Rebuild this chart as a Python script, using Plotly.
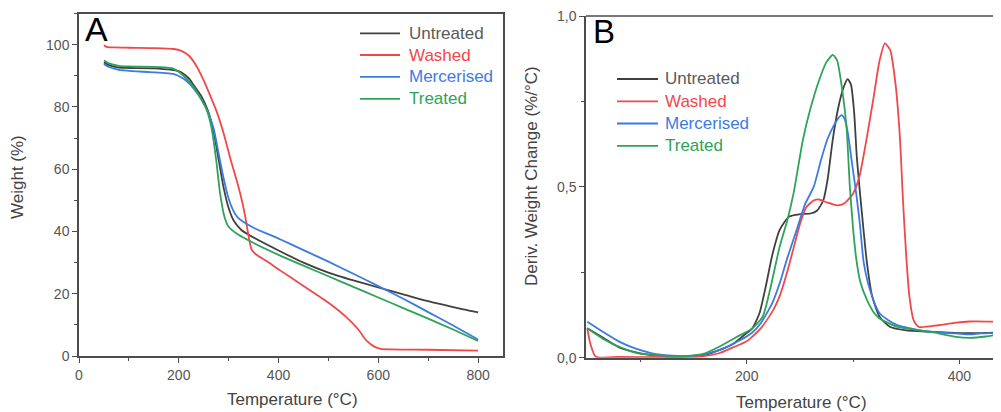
import plotly.graph_objects as go

# ---------------- Panel A: TGA (Weight %) ----------------
series_names = ["Untreated", "Washed", "Mercerised", "Treated"]
line_colors = ["#404040", "#f0484a", "#3b7be3", "#2ea35a"]
text_colors = ["#5a5a5a", "#f0484a", "#3b7be3", "#2ea35a"]

tA_untreated = [50, 60, 80, 100, 150, 200, 220, 230, 245, 258, 270, 280, 290, 300, 310, 326, 345, 400, 450, 500, 550, 600, 650, 700, 750, 800]
wA_untreated = [94.3, 93.4, 92.6, 92.5, 92.4, 91.5, 89.2, 87.0, 83.5, 79.0, 72.0, 63.0, 54.0, 47.5, 43.5, 40.4, 38.5, 33.9, 30.0, 26.8, 24.3, 22.0, 19.8, 17.6, 15.7, 14.0]

tA_washed = [50, 55, 70, 100, 150, 190, 205, 220, 236, 250, 262, 276, 290, 305, 315, 325, 333, 340, 346, 355, 376, 403, 450, 503, 536, 560, 576, 592, 605, 625, 700, 800]
wA_washed = [99.8, 99.3, 99.1, 99.0, 98.9, 98.6, 98.0, 96.5, 93.0, 88.5, 84.0, 78.5, 71.5, 62.5, 57.0, 51.0, 45.0, 38.5, 34.2, 32.6, 30.5, 27.5, 22.5, 16.8, 12.5, 8.5, 5.0, 3.0, 2.3, 2.1, 2.0, 1.7]

tA_mercerised = [50, 60, 80, 100, 129, 189, 209, 230, 245, 258, 270, 280, 290, 300, 309, 318, 330, 350, 403, 450, 500, 550, 603, 650, 700, 750, 800]
wA_mercerised = [93.8, 92.8, 91.9, 91.6, 91.3, 90.6, 89.1, 85.9, 82.5, 78.5, 73.0, 65.0, 57.0, 50.5, 46.8, 44.5, 43.0, 41.2, 37.5, 34.0, 30.3, 26.4, 22.2, 18.4, 14.1, 9.8, 5.3]

tA_treated = [50, 60, 80, 100, 160, 189, 209, 230, 245, 256, 266, 275, 283, 292, 300, 319, 350, 400, 450, 500, 550, 600, 650, 700, 750, 800]
wA_treated = [94.9, 94.0, 93.2, 93.0, 92.8, 92.3, 90.1, 86.4, 82.5, 79.0, 73.0, 63.0, 52.0, 44.5, 41.5, 39.0, 36.3, 32.5, 29.0, 25.6, 22.2, 18.8, 15.4, 12.0, 8.5, 4.8]

# ---------------- Panel B: DTG (Deriv. weight change) ----------------
tB_untreated = [50, 65, 80, 100, 125, 143, 160, 174, 187, 199, 205, 212, 218, 224, 231, 240, 250, 260, 266, 272, 276, 281, 286, 291, 295, 298, 301, 303.5, 306, 310, 313, 318, 325, 335, 350, 372, 400, 420, 440]
dB_untreated = [0.086, 0.058, 0.030, 0.013, 0.004, 0.004, 0.008, 0.022, 0.040, 0.070, 0.085, 0.130, 0.210, 0.300, 0.374, 0.413, 0.420, 0.422, 0.430, 0.460, 0.520, 0.640, 0.730, 0.790, 0.815, 0.800, 0.720, 0.590, 0.500, 0.370, 0.280, 0.180, 0.120, 0.090, 0.080, 0.076, 0.072, 0.072, 0.074]

tB_washed = [50, 53, 58, 80, 120, 156, 174, 187, 200, 213, 225, 231, 238, 244, 250, 256, 263, 268, 275, 285, 292, 300, 306, 313, 319, 325, 330, 335, 340, 344, 347, 350, 353, 357, 362, 380, 395, 410, 440]
dB_washed = [0.086, 0.040, 0.003, 0.002, 0.002, 0.003, 0.013, 0.030, 0.048, 0.085, 0.140, 0.180, 0.250, 0.320, 0.390, 0.440, 0.460, 0.463, 0.455, 0.446, 0.452, 0.480, 0.530, 0.645, 0.755, 0.870, 0.920, 0.900, 0.800, 0.650, 0.460, 0.300, 0.180, 0.110, 0.090, 0.095, 0.102, 0.106, 0.105]

tB_mercerised = [50, 65, 80, 95, 111, 130, 143, 160, 174, 190, 205, 213, 224, 231, 238, 247, 255, 263, 270, 276, 282, 286, 289, 292, 295, 299, 303, 306.5, 310, 316, 325, 341, 372, 397, 410, 420, 440]
dB_mercerised = [0.105, 0.075, 0.047, 0.027, 0.013, 0.006, 0.005, 0.010, 0.022, 0.045, 0.073, 0.100, 0.160, 0.218, 0.290, 0.374, 0.450, 0.500, 0.580, 0.640, 0.680, 0.700, 0.710, 0.700, 0.660, 0.570, 0.480, 0.390, 0.280, 0.198, 0.130, 0.096, 0.076, 0.071, 0.068, 0.071, 0.074]

tB_treated = [50, 65, 80, 95, 111, 130, 143, 160, 174, 190, 205, 215, 222, 231, 238, 244, 253, 260, 269, 275, 281, 285, 290, 294, 297, 300, 303, 307, 313, 320, 325, 341, 372, 397, 410, 425, 440]
dB_treated = [0.086, 0.055, 0.032, 0.015, 0.008, 0.005, 0.005, 0.012, 0.032, 0.060, 0.085, 0.120, 0.200, 0.325, 0.400, 0.480, 0.640, 0.730, 0.820, 0.865, 0.886, 0.870, 0.780, 0.670, 0.500, 0.380, 0.290, 0.220, 0.170, 0.130, 0.115, 0.091, 0.076, 0.061, 0.058, 0.062, 0.070]

# tick labels
xA_ticks = [0, 200, 400, 600, 800]
yA_ticks = [0, 20, 40, 60, 80, 100]
xB_ticks = [200, 400]
yB_ticks = [0.0, 0.5, 1.0]
yB_ticktext = ["0,0", "0,5", "1,0"]

# page has an 8px body margin: figure occupies window pixels 8..1001 x 8..412
OFF = 8
W, H = 1001 - OFF, 412 - OFF
def px(x):
    return (x - OFF) / W
def py(y):
    return 1 - (y - OFF) / H

FONT = "Arial, Liberation Sans, sans-serif"
AX = "#4d4d4d"

fig = go.Figure()

dataA = [(tA_untreated, wA_untreated), (tA_washed, wA_washed),
         (tA_mercerised, wA_mercerised), (tA_treated, wA_treated)]
dataB = [(tB_untreated, dB_untreated), (tB_washed, dB_washed),
         (tB_mercerised, dB_mercerised), (tB_treated, dB_treated)]

for i, (x, y) in enumerate(dataA):
    fig.add_trace(go.Scatter(
        x=x, y=y, mode="lines", xaxis="x", yaxis="y", name=series_names[i],
        line=dict(color=line_colors[i], width=1.8, shape="spline", smoothing=0.6),
        showlegend=False))

for i, (x, y) in enumerate(dataB):
    fig.add_trace(go.Scatter(
        x=x, y=y, mode="lines", xaxis="x2", yaxis="y2", name=series_names[i],
        line=dict(color=line_colors[i], width=1.8, shape="spline", smoothing=0.6),
        showlegend=False))

axis_common = dict(showline=True, linecolor=AX, linewidth=1.5,
                   ticks="outside", ticklen=5, tickwidth=1.2, tickcolor=AX,
                   showgrid=False, zeroline=False, automargin=False,
                   ticklabeloverflow="allow",
                   tickfont=dict(family=FONT, size=14, color="#555555"))

fig.update_layout(
    width=W, height=H,
    margin=dict(l=0, r=0, t=0, b=0, pad=0, autoexpand=False),
    paper_bgcolor="white", plot_bgcolor="white",
    showlegend=False,
    xaxis=dict(domain=[px(79), px(503)], range=[0, 850], tickmode="array", tickvals=xA_ticks,
               mirror=True, anchor="y",
               minor=dict(tickmode="linear", tick0=0, dtick=100, ticks="outside", ticklen=3, tickcolor=AX),
               **axis_common),
    yaxis=dict(domain=[py(356), py(13.5)], range=[0, 110], tickmode="array", tickvals=yA_ticks,
               mirror=True, anchor="x",
               minor=dict(tickmode="linear", tick0=0, dtick=10, ticks="outside", ticklen=3, tickcolor=AX),
               **axis_common),
    xaxis2=dict(domain=[px(586), 1.0], range=[48.8, 439.2], tickmode="array", tickvals=xB_ticks,
                mirror=False, anchor="y2",
                minor=dict(tickmode="linear", tick0=0, dtick=100, ticks="outside", ticklen=3, tickcolor=AX),
                **axis_common),
    yaxis2=dict(domain=[py(357.7), py(16)], range=[0, 1.0], tickmode="array", tickvals=yB_ticks,
                ticktext=yB_ticktext, mirror=False, anchor="x2",
                minor=dict(tickmode="linear", tick0=0, dtick=0.25, ticks="outside", ticklen=3, tickcolor=AX),
                **axis_common),
)

# top frame line of panel B
fig.add_shape(type="line", xref="x2 domain", yref="y2 domain", x0=0, x1=1, y0=1, y1=1,
              line=dict(color=AX, width=1.5))

# legends (line sample + coloured label)
legend_specs = [
    dict(x0=360, x1=400, tx=406.5, rows=[33.3, 55.0, 76.8, 98.8]),
    dict(x0=617, x1=658, tx=663.0, rows=[79.0, 101.3, 123.5, 145.8]),
]
for spec in legend_specs:
    for i, name in enumerate(series_names):
        yrow = spec["rows"][i]
        fig.add_shape(type="line", xref="paper", yref="paper",
                      x0=px(spec["x0"]), x1=px(spec["x1"]), y0=py(yrow), y1=py(yrow),
                      line=dict(color=line_colors[i], width=1.8))
        fig.add_annotation(xref="paper", yref="paper", x=px(spec["tx"]), y=py(yrow),
                           xanchor="left", yanchor="middle", showarrow=False, text=name,
                           font=dict(family=FONT, size=17, color=text_colors[i]))

title_font = dict(family=FONT, size=17, color="#444444")
annotations = [
    dict(text="A", x=px(96), y=py(29), font=dict(family=FONT, size=34, color="black")),
    dict(text="B", x=px(604), y=py(31.5), font=dict(family=FONT, size=33, color="black")),
    dict(text="Weight (%)", x=px(18), y=py(177), textangle=-90, font=title_font),
    dict(text="Temperature (°C)", x=px(292), y=py(399), font=title_font),
    dict(text="Deriv. Weight Change (%/°C)", x=px(532), y=py(176), textangle=-90, font=title_font),
    dict(text="Temperature (°C)", x=px(801), y=py(402), font=title_font),
]
for a in annotations:
    fig.add_annotation(xref="paper", yref="paper", xanchor="center", yanchor="middle",
                       showarrow=False, **a)

fig.write_html("out.html")
